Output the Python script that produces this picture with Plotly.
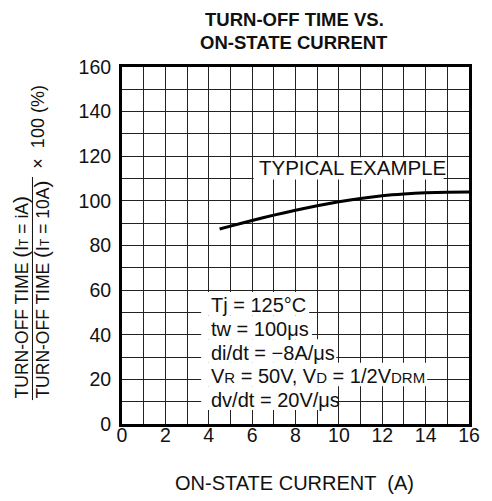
import plotly.graph_objects as go

# Data
current_a = [4.5, 5, 6, 7, 8, 9, 10, 11, 12, 13, 14, 15, 16]
turnoff_ratio_pct = [87.4, 88.7, 91.2, 93.6, 95.8, 97.8, 99.6, 101.1, 102.3, 103.1, 103.6, 103.9, 104.0]

x_ticks = [0, 2, 4, 6, 8, 10, 12, 14, 16]
y_ticks = [0, 20, 40, 60, 80, 100, 120, 140, 160]

title_lines = ["TURN-OFF TIME VS.", "ON-STATE CURRENT"]

conditions = [
    "Tj = 125°C",
    "tw = 100μs",
    "di/dt = −8A/μs",
    "V<span style='font-size:15px'>R</span> = 50V, V<span style='font-size:15px'>D</span> = 1/2V<span style='font-size:15px'>DRM</span>",
    "dv/dt = 20V/μs",
]
condition_y = [53.4, 42.7, 32.0, 21.3, 10.6]
# white label backgrounds (x-extent right edges per row, in axis units)
condition_box_right = [8.63, 8.76, 9.88, 14.07, 9.92]
condition_box_edges = [59.2, 48.6, 38.0, 27.4, 16.9, 6.3]

FONT = "Liberation Sans, Arial, sans-serif"
GRID = "#222222"

fig = go.Figure()
fig.add_trace(go.Scatter(
    x=current_a, y=turnoff_ratio_pct, mode="lines",
    line=dict(color="black", width=3, shape="spline", smoothing=0.6),
    showlegend=False, hoverinfo="skip",
))

fig.update_xaxes(
    range=[0, 16], tickvals=x_ticks, ticks="", zeroline=False,
    showgrid=True, gridcolor=GRID, gridwidth=1.2,
    minor=dict(dtick=1, showgrid=True, gridcolor=GRID, gridwidth=1.2),
    showline=True, linecolor="black", linewidth=3, mirror=True,
    tickfont=dict(family=FONT, size=19.5, color="#111"),
    ticklabelstandoff=-8,
)
fig.update_yaxes(
    range=[0, 160], tickvals=y_ticks, ticks="outside", ticklen=4, tickcolor="rgba(0,0,0,0)",
    zeroline=False,
    showgrid=True, gridcolor=GRID, gridwidth=1.2,
    minor=dict(dtick=10, showgrid=True, gridcolor=GRID, gridwidth=1.2),
    showline=True, linecolor="black", linewidth=3, mirror=True,
    tickfont=dict(family=FONT, size=19.5, color="#111"),
)

shapes = []
# white backgrounds that interrupt the grid (drawn between grid and trace)
shapes.append(dict(type="rect", xref="x", yref="y", x0=6.07, x1=14.83, y0=109.6, y1=119.5,
                   fillcolor="white", line=dict(width=0), layer="between"))
for i, xr in enumerate(condition_box_right):
    shapes.append(dict(type="rect", xref="x", yref="y", x0=3.65, x1=xr,
                       y0=condition_box_edges[i + 1], y1=condition_box_edges[i],
                       fillcolor="white", line=dict(width=0), layer="between"))
# fraction bar of the y label
shapes.append(dict(type="line", xref="paper", yref="paper", x0=-0.258, x1=-0.258,
                   y0=0.067, y1=0.692, line=dict(color="#111", width=1)))

ann = []
# Title (two single-line annotations)
for line, yy in zip(title_lines, [1.134, 1.07]):
    ann.append(dict(
        text="<b>" + line + "</b>", xref="paper", yref="paper",
        x=0.496, y=yy, xanchor="center", yanchor="middle", showarrow=False,
        font=dict(family=FONT, size=18.5, color="#111"),
    ))
# X-axis title
ann.append(dict(
    text="ON-STATE CURRENT  (A)", xref="paper", yref="paper",
    x=0.497, y=-0.165, xanchor="center", yanchor="middle", showarrow=False,
    font=dict(family=FONT, size=20, color="#111"),
))
# Typical example label
ann.append(dict(
    text="TYPICAL EXAMPLE", x=10.65, y=114.8, xanchor="center", yanchor="middle",
    showarrow=False, font=dict(family=FONT, size=20.5, color="#111"),
))
# Conditions
for t, yy in zip(conditions, condition_y):
    ann.append(dict(
        text=t, x=4.04, y=yy, xanchor="left", yanchor="middle",
        showarrow=False, borderpad=0,
        font=dict(family=FONT, size=20, color="#111"),
    ))
# Y-axis label (fraction)
ann.append(dict(
    text="TURN-OFF TIME <span style='font-size:21px'>(</span>I<span style='font-size:12px'>T</span> = iA<span style='font-size:21px'>)</span>",
    xref="paper", yref="paper", x=-0.293, y=0.067, xanchor="center", yanchor="bottom",
    textangle=-90, showarrow=False, font=dict(family=FONT, size=17.5, color="#111"),
))
ann.append(dict(
    text="TURN-OFF TIME <span style='font-size:21px'>(</span>I<span style='font-size:12px'>T</span> = 10A<span style='font-size:21px'>)</span>",
    xref="paper", yref="paper", x=-0.232, y=0.067, xanchor="center", yanchor="bottom",
    textangle=-90, showarrow=False, font=dict(family=FONT, size=17.5, color="#111"),
))
ann.append(dict(
    text="×  100 (%)", xref="paper", yref="paper", x=-0.242, y=0.833,
    xanchor="center", yanchor="middle", textangle=-90, showarrow=False,
    font=dict(family=FONT, size=18, color="#111"),
))

fig.update_layout(
    width=484, height=493,
    margin=dict(l=114, r=14, t=59, b=77),
    paper_bgcolor="white", plot_bgcolor="white",
    annotations=ann,
    shapes=shapes,
)

fig.write_html("out.html")
